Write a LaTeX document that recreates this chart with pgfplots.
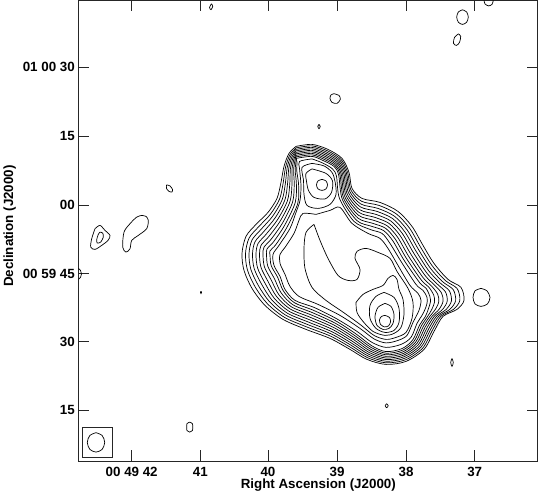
\documentclass[border=0pt]{standalone}
\usepackage{fontspec}
\setmainfont{Liberation Sans}
\usepackage{pgfplots}
\pgfplotsset{compat=1.18}
\begin{document}
\begin{tikzpicture}
\begin{axis}[
  name=ax,
  scale only axis,
  width=459.4bp, height=460.7bp,
  xmin=78.3, xmax=537.7, ymin=0, ymax=460.7,
  y dir=reverse,
  axis line style={line width=0.8bp, black!85},
  xtick={131.7,200.3,268,337,406,474.7},
  xticklabels={{00\ 49\ 42},41,40,39,38,37},
  ytick={67,136,204.5,273.3,341.3,410},
  yticklabels={{01\ 00\ 30},15,00,{00\ 59\ 45},30,15},
  tick align=inside,
  major tick length=11bp,
  tick style={line width=0.7bp, black!85},
  tick pos=both,
  xticklabel pos=lower, yticklabel pos=left,
  every tick label/.append style={font=\fontsize{13.4}{16}\selectfont\bfseries},
  xticklabel style={yshift=-3bp},
  xlabel={Right Ascension (J2000)},
  ylabel={Declination (J2000)},
  every axis label/.append style={font=\fontsize{13.4}{16}\selectfont\bfseries},
  xlabel style={at={([yshift=-14.6bp]axis description cs:0.5224,0)}, anchor=north},
  ylabel style={at={([xshift=-59bp]axis description cs:0,0.51)}, anchor=south},
  clip=true,
  c/.style={smooth, line width=0.7bp, black, mark=none},
]
% ---------- main source: outer nested contours ----------
\addplot[c] coordinates {(296,146)(312,144)(328,149)(342,158)(349,172)(352,188)(362,198)(380,202)(398,211)(412,226)(423,245)(434,263)(448,279)(461,287)(464,300)(457,309)(443,316)(434,331)(424,349)(406,361)(386,364)(367,359)(350,349)(330,338)(306,329)(283,319)(265,305)(252,288)(244,270)(242,253)(246,236)(256,224)(268,212)(277,198)(281,182)(284,166)(289,153)(296,146)};
\addplot[c] coordinates {(296,147.5)(312,145.5)(327.4,150.4)(341,159)(347.7,172.3)(350.8,189.4)(361.4,200.8)(379,205)(396.2,213.4)(409.6,227.8)(420.6,246.8)(432.2,265.4)(445.3,280.1)(457.1,288.1)(459.8,300.2)(453.4,309)(440.8,316)(432.2,330.2)(422.6,347.8)(405.5,359.4)(386,362.4)(367.6,357.3)(350.8,347.1)(330.7,335.8)(306.9,326.6)(284.4,316.9)(267.3,303.2)(255.2,286.6)(247.4,269.4)(245.5,253.2)(249,237.8)(258.5,226.5)(270.4,213.8)(279.6,198.6)(283.2,182.3)(285.6,166.6)(290,154.1)(296,147.5)};
\addplot[c] coordinates {(296,149)(312,147)(326.8,151.8)(340,160)(346.4,172.6)(349.6,190.8)(360.8,203.6)(378,208)(394.4,215.8)(407.2,229.6)(418.2,248.6)(430.4,267.8)(442.5,281.2)(453.2,289.2)(455.6,300.4)(449.8,309)(438.6,316)(430.4,329.4)(421.2,346.6)(405,357.8)(386,360.8)(368.2,355.6)(351.6,345.2)(331.4,333.6)(307.8,324.2)(285.8,314.8)(269.6,301.4)(258.4,285.2)(250.8,268.8)(249,253.4)(252,239.6)(261,229)(272.8,215.6)(282.2,199.2)(285.4,182.6)(287.2,167.2)(291,155.2)(296,149)};
\addplot[c] coordinates {(296,150.5)(312,148.5)(326.2,153.2)(339,161)(345.1,172.9)(348.4,192.2)(360.2,206.4)(377,211)(392.6,218.2)(404.8,231.4)(415.8,250.4)(428.6,270.2)(439.8,282.3)(449.3,290.3)(451.4,300.6)(446.2,309)(436.4,316)(428.6,328.6)(419.8,345.4)(404.5,356.2)(386,359.2)(368.8,353.9)(352.4,343.3)(332.1,331.4)(308.7,321.8)(287.2,312.7)(271.9,299.6)(261.6,283.8)(254.2,268.2)(252.5,253.6)(255,241.4)(263.5,231.5)(275.2,217.4)(284.8,199.8)(287.6,182.9)(288.8,167.8)(292,156.3)(296,150.5)};
\addplot[c] coordinates {(296,152)(312,150)(325.6,154.6)(338,162)(343.8,173.2)(347.2,193.6)(359.6,209.2)(376,214)(390.8,220.6)(402.4,233.2)(413.4,252.2)(426.8,272.6)(437,283.4)(445.4,291.4)(447.2,300.8)(442.6,309)(434.2,316)(426.8,327.8)(418.4,344.2)(404,354.6)(386,357.6)(369.4,352.2)(353.2,341.4)(332.8,329.2)(309.6,319.4)(288.6,310.6)(274.2,297.8)(264.8,282.4)(257.6,267.6)(256,253.8)(258,243.2)(266,234)(277.6,219.2)(287.4,200.4)(289.8,183.2)(290.4,168.4)(293,157.4)(296,152)};
\addplot[c] coordinates {(296,153.5)(312,151.5)(325,156)(337,163)(342.5,173.5)(346,195)(359,212)(375,217)(389,223)(400,235)(411,254)(425,275)(434.3,284.5)(441.5,292.5)(443,301)(439,309)(432,316)(425,327)(417,343)(403.5,353)(386,356)(370,350.5)(354,339.5)(333.5,327)(310.5,317)(290,308.5)(276.5,296)(268,281)(261,267)(259.5,254)(261,245)(268.5,236.5)(280,221)(290,201)(292,183.5)(292,169)(294,158.5)(296,153.5)};
\addplot[c] coordinates {(296,155)(312,153)(324.4,157.4)(336,164)(341.2,173.8)(344.8,196.4)(358.4,214.8)(374,220)(387.2,225.4)(397.6,236.8)(408.6,255.8)(423.2,277.4)(431.5,285.6)(437.6,293.6)(438.8,301.2)(435.4,309)(429.8,316)(423.2,326.2)(415.6,341.8)(403,351.4)(386,354.4)(370.6,348.8)(354.8,337.6)(334.2,324.8)(311.4,314.6)(291.4,306.4)(278.8,294.2)(271.2,279.6)(264.4,266.4)(263,254.2)(264,246.8)(271,239)(282.4,222.8)(292.6,201.6)(294.2,183.8)(293.6,169.6)(295,159.6)(296,155)};
\addplot[c] coordinates {(296,156.5)(312,154.5)(323.8,158.8)(335,165)(339.9,174.1)(343.6,197.8)(357.8,217.6)(373,223)(385.4,227.8)(395.2,238.6)(406.2,257.6)(421.4,279.8)(428.8,286.7)(433.7,294.7)(434.6,301.4)(431.8,309)(427.6,316)(421.4,325.4)(414.2,340.6)(402.5,349.8)(386,352.8)(371.2,347.1)(355.6,335.7)(334.9,322.6)(312.3,312.2)(292.8,304.3)(281.1,292.4)(274.4,278.2)(267.8,265.8)(266.5,254.4)(267,248.6)(273.5,241.5)(284.8,224.6)(295.2,202.2)(296.4,184.1)(295.2,170.2)(296,160.7)(296,156.5)};
\addplot[c] coordinates {(296,158)(312,156)(323.2,160.2)(334,166)(338.6,174.4)(342.4,199.2)(357.2,220.4)(372,226)(383.6,230.2)(392.8,240.4)(403.8,259.4)(419.6,282.2)(426,287.8)(429.8,295.8)(430.4,301.6)(428.2,309)(425.4,316)(419.6,324.6)(412.8,339.4)(402,348.2)(386,351.2)(371.8,345.4)(356.4,333.8)(335.6,320.4)(313.2,309.8)(294.2,302.2)(283.4,290.6)(277.6,276.8)(271.2,265.2)(270,254.6)(270,250.4)(276,244)(287.2,226.4)(297.8,202.8)(298.6,184.4)(296.8,170.8)(297,161.8)(296,158)};
% ---------- inner contours ----------
\addplot[c] coordinates {(312,158.5)(322.5,162.5)(332.5,168.5)(336.5,176)(339.5,198)(354,221)(370,229)(382,233)(390,243)(401,261)(416,284)(423,290)(427,297)(427,303)(425,309)(422,315)(417,323)(411,337)(401,344)(386,347)(372,342)(357,331)(336,318)(314,307)(295,300)(285,289)(280,276)(274,265)(273,254)(279,245)(290,228)(296,212)(300,200)(301,185)(299.5,168)(299.5,161)(312,158.5)};
\addplot[c] coordinates {(316,214)(330,210)(340,207)(352,223)(368,233)(380,238)(388,248)(398,265)(410,285)(418,293)(421,300)(419,310)(413,322)(407,335)(398,340)(386,342.5)(374,338.5)(360,328)(340,315)(318,304)(299,296)(290,286)(285,274)(280,263)(280,254)(285,247)(294,233)(299,220)(303,213)(316,214)};
\addplot[c] coordinates {(314,224)(320,240)(328,258)(338,275)(348,280)(357,279)(360,269)(355,258)(357,251)(366,248)(378,252)(390,258)(397,271)(408,288)(413,302)(412,318)(406,332)(396,337)(386,339)(374,335)(360,324)(342,311)(326,300)(312,287)(305,268)(304,248)(306,232)(314,224)};
% north lobe
\addplot[c] coordinates {(312,163)(324,165.5)(332,172)(335,181)(336,194)(330,204)(318,208)(307,205)(304,194)(303.5,180)(302,167)(312,163)};
\addplot[c] coordinates {(312,168.5)(326,173)(332.5,180.5)(331.5,192)(325,198.5)(314,197)(308.5,190)(306.5,181)(306,173)(312,168.5)};
\addplot[c] coordinates {(322,179)(326,180.5)(327.5,184.5)(326,188.5)(322,190)(318,188.5)(316.5,184.5)(318,180.5)(322,179)};
% south lobe
\addplot[c] coordinates {(356,302)(363,294)(373,289)(383,285)(388,278)(393,275)(397,279)(399,289)(403,299)(404,314)(401,327)(394,333)(385,335)(373,331)(363,321)(357,312)(356,302)};
\addplot[c] coordinates {(384,292)(394,297)(399,308)(399,322)(394,330)(385,332)(376,328)(370,318)(370,305)(376,296)(384,292)};
\addplot[c] coordinates {(385,303)(391,306)(394,314)(393,323)(389,328)(383,329)(377,325)(375,316)(378,307)(385,303)};
\addplot[c] coordinates {(385,315)(389.5,317)(390.5,321.5)(388.5,325.5)(384.5,326.5)(380.5,324)(379.5,319.5)(381.5,316)(385,315)};
% ---------- small features ----------
\addplot[c] coordinates {(95,228.3)(100,225)(105,230)(110,235)(108,240)(101.7,245)(95,249)(90.7,246.7)(91.7,238.3)(95,228.3)};
\addplot[c] coordinates {(100,231.7)(102.7,232.7)(103.3,236.7)(100.7,241.7)(97.3,242.7)(96.7,239.3)(98.3,234)(100,231.7)};
\addplot[c] coordinates {(141.7,215)(146,216)(148.3,220)(146.7,228.3)(138.3,235)(131.7,240)(130,248.3)(126,251.7)(122.7,246.7)(124,231.7)(130,223.3)(136.7,216.7)(141.7,215)};
\addplot[c] coordinates {(166.5,184.5)(170,185.5)(172.5,189)(172,191.5)(169,191)(166.5,188)(166.5,184.5)};
\addplot[c] coordinates {(78.3,268)(80.5,270)(81.5,273.5)(80.5,277)(78.3,279)};
\addplot[c] coordinates {(201,290.8)(201.6,292)(201,293.2)(200.4,292)(201,290.8)};
\addplot[c] coordinates {(189.7,421.7)(192.4,423.2)(192.7,426.7)(192.4,430.2)(189.7,431.7)(187,430.2)(186.7,426.7)(187,423.2)(189.7,421.7)};
\addplot[c] coordinates {(386.7,403.3)(388.2,405.3)(386.7,407.3)(385.2,405.3)(386.7,403.3)};
\addplot[c] coordinates {(452,358)(453.3,362)(452,366)(450.7,362)(452,358)};
\addplot[c] coordinates {(481,288)(487,290.5)(490,297)(487.5,303.5)(481,306)(475,303.5)(473,297)(475,290.5)(481,288)};
\addplot[c] coordinates {(334,93.3)(339,95)(340.3,99)(337,103)(332,102)(330,98)(331,94.5)(334,93.3)};
\addplot[c] coordinates {(319,124)(320.2,126)(319,128.3)(317.8,126)(319,124)};
\addplot[c] coordinates {(211.5,3.3)(212.7,6)(211,9.3)(209.5,7)(211.5,3.3)};
\addplot[c] coordinates {(462.5,9.4)(466.6,11.5)(468.3,16.7)(466.6,21.9)(462.5,24)(458.4,21.9)(456.7,16.7)(458.4,11.5)(462.5,9.4)};
\addplot[c] coordinates {(458.5,33.5)(460.7,36)(459.5,42)(456.5,45)(453.5,43)(454.5,37)(458.5,33.5)};
\addplot[c] coordinates {(484,0)(485,3.5)(488.5,5.5)(492,4)(493.3,0)};
% ---------- beam ----------
\addplot[line width=0.7bp, black!85, mark=none] coordinates {(82.3,427.3)(112,427.3)(112,457.3)(82.3,457.3)(82.3,427.3)};
\addplot[c] coordinates {(96,432.3)(102.2,435.1)(104.7,442)(102.2,448.9)(96,451.7)(89.8,448.9)(87.3,442)(89.8,435.1)(96,432.3)};
\end{axis}
\pgfresetboundingbox
\path ([xshift=-78.3bp,yshift=-33.3bp]ax.south west) rectangle ([xshift=2.3bp,yshift=0.4bp]ax.north east);
\end{tikzpicture}
\end{document}
